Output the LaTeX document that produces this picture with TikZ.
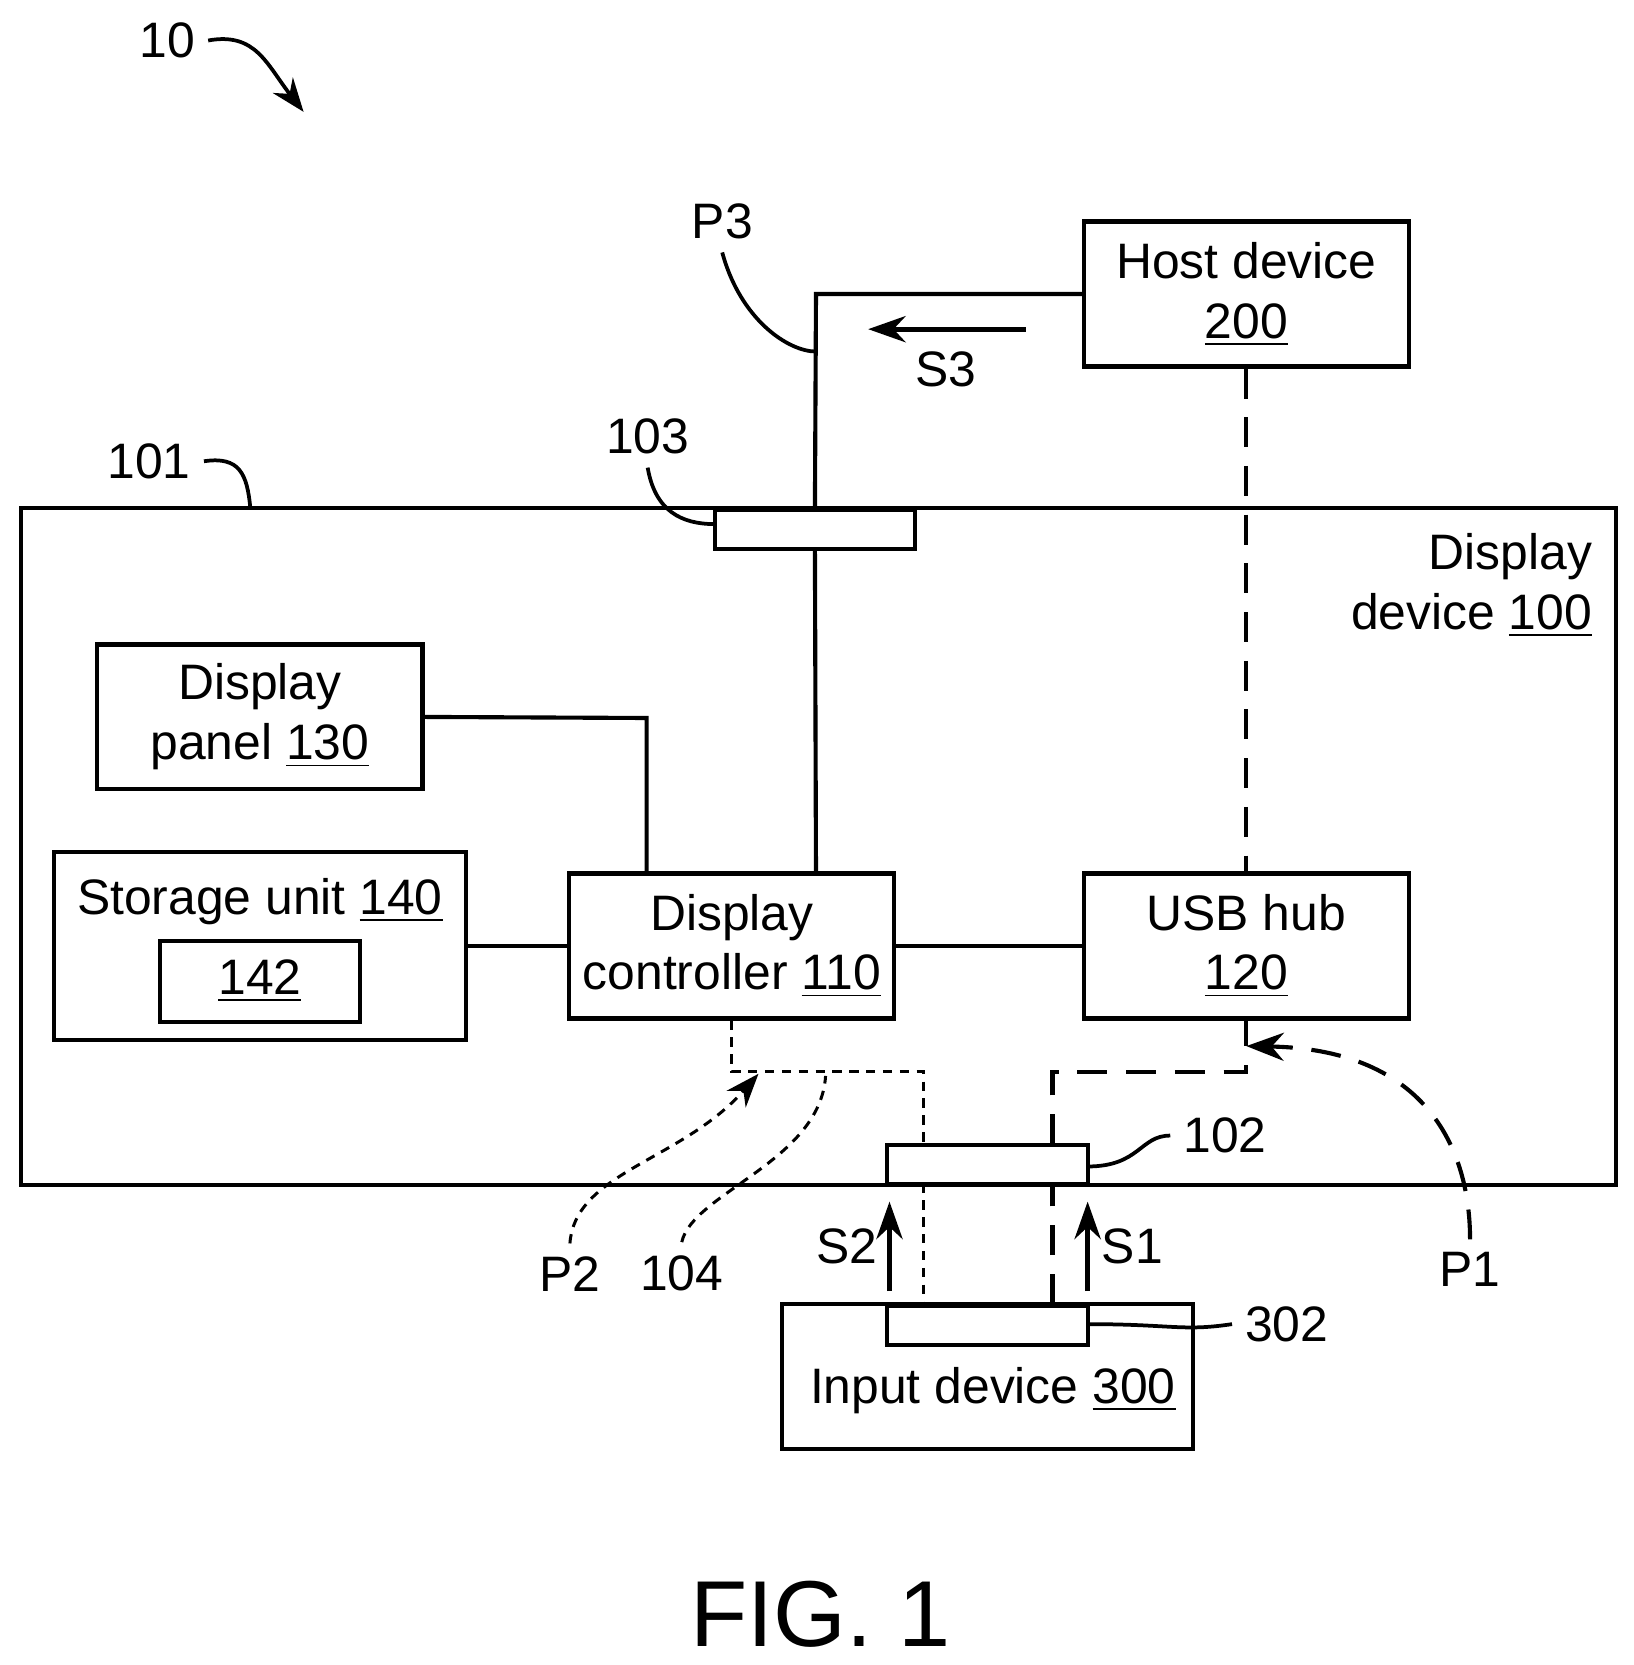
\documentclass[tikz,border=0pt]{standalone}
\usepackage{fontspec}
\setmainfont{Liberation Sans}
\usetikzlibrary{arrows.meta}
\tikzset{
  blk/.style={draw,line width=1.1pt,minimum width=3.05cm,minimum height=1.36cm,align=center},
  port/.style={draw,line width=1.1pt,minimum width=1.88cm,minimum height=0.37cm},
  wire/.style={line width=1.1pt},
  dsh/.style={line width=1.1pt,dash pattern=on 8pt off 5pt},
  dot/.style={line width=0.8pt,dash pattern=on 2.5pt off 2pt},
  sig/.style={line width=1.3pt,-{Stealth[length=10pt,width=7pt]}},
}
\begin{document}
\begin{tikzpicture}[x=0.01cm,y=-0.01cm,font=\fontsize{13.3}{16}\selectfont]
\useasboundingbox (0,0) rectangle (1533,1563);
% outer display device
\draw [wire] (20,477) rectangle (1517,1112);
\node [anchor=north east,align=right] (dev) at (1507,488) {Display\\device \underline{100}};
% blocks
\node [blk] (host) at (1170,276) {Host device\\\underline{200}};
\node [blk] (panel) at (244,673) {Display\\panel \underline{130}};
\node [blk,minimum width=3.86cm,minimum height=1.76cm] (store) at (244,888) {};
\node [anchor=north] (storet) at (244,812) {Storage unit \underline{140}};
\node [draw,line width=1.1pt,minimum width=1.88cm,minimum height=0.76cm] (mem) at (244,921) {\underline{142}};
\node [blk] (ctrl) at (687,888) {Display\\controller \underline{110}};
\node [blk] (hub) at (1170,888) {USB hub\\\underline{120}};
\node [blk,minimum width=3.86cm] (input) at (927,1292) {};
\node (inputt) at (932,1305) {Input device \underline{300}};
\node [port] (p103) at (765,497) {};
\node [port] (p102) at (927,1093) {};
\node [port,anchor=north] (p302) at (927,1224) {};
% solid wires
\draw [wire] (host.west) -- (766,276) -- (p103.north);
\draw [wire] (p103.south) -- (766,820);
\draw [wire] (panel.east) -- (607,674) -- (607,820);
\draw [wire] (store.east) -- (ctrl.west);
\draw [wire] (ctrl.east) -- (hub.west);
\draw [dsh] (host.south) -- (hub.north);
% path P1 and P2
\draw [dsh] (988,1224) -- (988,1111);
\draw [dsh] (988,1074) -- (988,1006) -- (1170,1006) -- (hub.south);
\draw [dot] (ctrl.south) -- (687,1006) -- (867,1006) -- (867,1074);
\draw [dot] (867,1111) -- (867,1224);
% signals
\coordinate (s3a) at (963,309);
\coordinate (s3b) at (815,309);
\draw [sig] (s3a) -- (s3b);
\node (s3) at (888,347) {S3};
\draw [sig] (835,1212) -- (835,1128);
\node (s2) at (795,1170) {S2};
\draw [sig] (1021,1212) -- (1021,1128);
\node (s1) at (1063,1170) {S1};
% reference labels
\node (n10) at (157,38) {10};
\draw [line width=1pt,-{Stealth[length=9pt]}] (n10.east) .. controls (240,30) and (250,60) .. (285,105);
\node (n101) at (140,433) {101};
\draw [line width=1pt] (n101.east) .. controls (225,428) and (232,445) .. (235,477);
\node (n103) at (608,410) {103};
\draw [line width=1pt] (n103.south) .. controls (615,480) and (640,492) .. (671,492);
\node (np3) at (678,208) {P3};
\draw [line width=1pt] (np3.south) .. controls (695,300) and (740,330) .. (766,330);
\node (n102) at (1150,1066) {102};
\draw [line width=1pt] (1021,1095) .. controls (1070,1095) and (1070,1066) .. (n102.west);
\node (n302) at (1208,1243) {302};
\draw [line width=1pt] (1021,1243) .. controls (1100,1243) and (1110,1250) .. (n302.west);
\node (np1) at (1380,1192) {P1};
\draw [dsh,-{Stealth[length=10pt]}] (np1.north) .. controls (1380,1080) and (1340,985) .. (1170,982);
\node (np2) at (535,1196) {P2};
\draw [dot,-{Stealth[length=9pt]}] (np2.north) .. controls (540,1100) and (640,1090) .. (712,1008);
\node (n104) at (640,1195) {104};
\draw [dot] (n104.north) .. controls (650,1120) and (770,1090) .. (775,1010);
\node [font=\fontsize{25}{30}\selectfont] (fig) at (770,1515) {FIG. 1};
\end{tikzpicture}
\end{document}
